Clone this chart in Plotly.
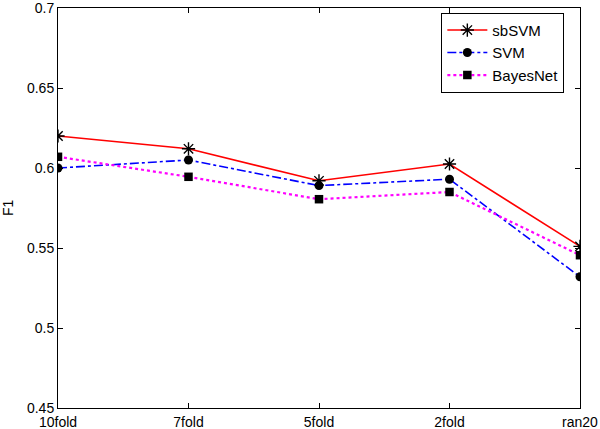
import plotly.graph_objects as go

categories = ["10fold", "7fold", "5fold", "2fold", "ran20"]
sbsvm = [0.620, 0.612, 0.592, 0.6025, 0.551]
svm = [0.600, 0.605, 0.589, 0.593, 0.532]
bayesnet = [0.607, 0.5945, 0.5805, 0.585, 0.5455]
y_ticks = [0.45, 0.5, 0.55, 0.6, 0.65, 0.7]
y_tick_labels = ["0.45", "0.5", "0.55", "0.6", "0.65", "0.7"]
y_title = "F1"

font = "Liberation Sans, Arial, Helvetica, sans-serif"

fig = go.Figure()
fig.add_trace(go.Scatter(
    x=categories, y=sbsvm, name="sbSVM", mode="lines+markers",
    line=dict(color="red", width=1.6),
    marker=dict(symbol="asterisk-open", size=11, color="black",
                line=dict(color="black", width=1.4)),
))
fig.add_trace(go.Scatter(
    x=categories, y=svm, name="SVM", mode="lines+markers",
    line=dict(color="blue", width=1.6, dash="dashdot"),
    marker=dict(symbol="circle", size=9, color="black"),
))
fig.add_trace(go.Scatter(
    x=categories, y=bayesnet, name="BayesNet", mode="lines+markers",
    line=dict(color="magenta", width=2.2, dash="dot"),
    marker=dict(symbol="square", size=8.5, color="black"),
))

fig.update_layout(
    width=600, height=429,
    margin=dict(l=58, r=20, t=8, b=21, autoexpand=False),
    paper_bgcolor="white", plot_bgcolor="white",
    font=dict(family=font, size=14, color="black"),
    legend=dict(
        x=0.97, y=0.988, xanchor="right", yanchor="top",
        bgcolor="white", bordercolor="black", borderwidth=1,
        font=dict(family=font, size=15, color="black"),
        tracegroupgap=0, itemwidth=40,
    ),
    annotations=[dict(
        text=y_title, xref="paper", yref="paper", x=0, y=0.5,
        xanchor="center", yanchor="middle", xshift=-50, textangle=-90,
        showarrow=False, font=dict(family=font, size=14, color="black"),
    )],
)
fig.update_xaxes(
    type="category", range=[0, 4],
    tickvals=categories, ticktext=categories,
    showline=True, linecolor="black", linewidth=1, mirror="ticks",
    ticks="inside", ticklen=5, tickcolor="black",
    showgrid=False, zeroline=False, automargin=False,
    tickfont=dict(family=font, size=14), ticklabeloverflow="allow",
    ticklabelstandoff=1,
)
fig.update_yaxes(
    range=[0.45, 0.7],
    tickvals=y_ticks, ticktext=y_tick_labels,
    showline=True, linecolor="black", linewidth=1, mirror="ticks",
    ticks="inside", ticklen=5, tickcolor="black",
    showgrid=False, zeroline=False, automargin=False,
    tickfont=dict(family=font, size=14), ticklabeloverflow="allow",
)

fig.write_html(
    "out.html",
    config={"displayModeBar": False},
    post_script="document.body.style.margin='0';document.body.style.overflow='hidden';",
)
